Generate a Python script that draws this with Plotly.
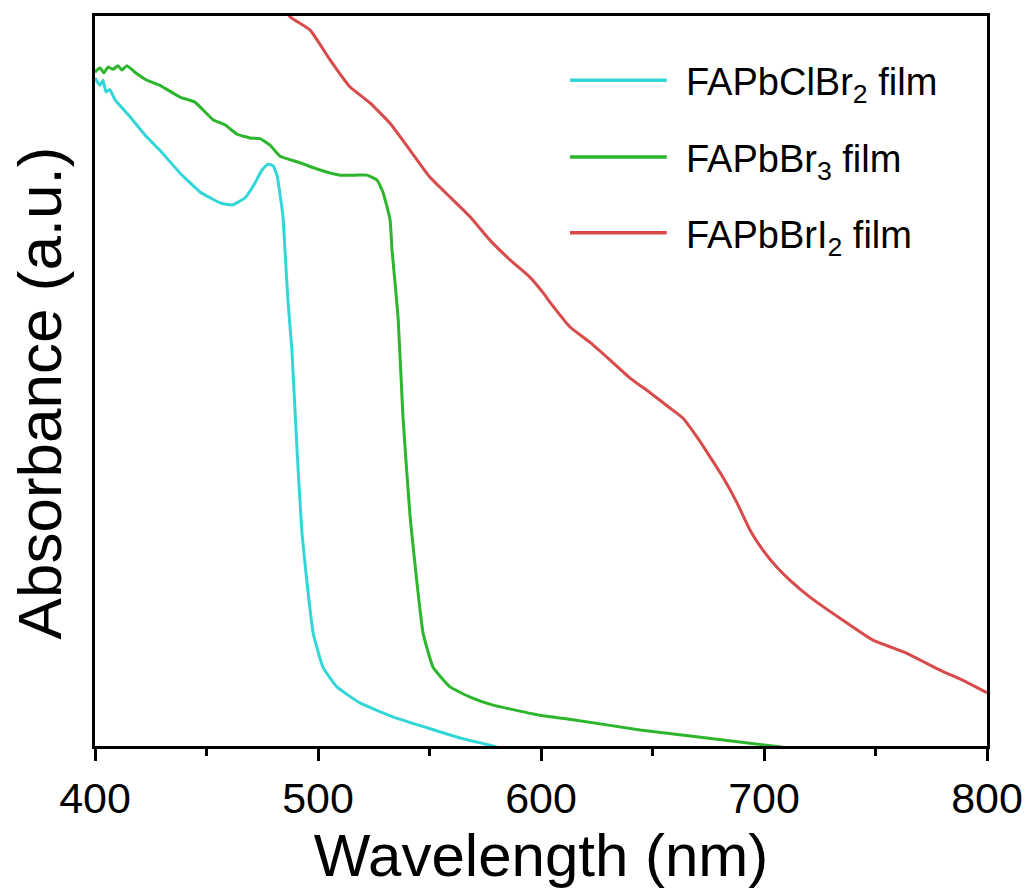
import plotly.graph_objects as go

# UV-vis absorbance spectra of FAPbX3 perovskite films (wavelength in nm, absorbance in a.u.)
wl_clbr2 = [400.0, 402.2, 403.6, 404.9, 406.7, 409.0, 415.7, 422.4, 429.1, 438.1,
            447.1, 456.1, 461.4, 467.3, 471.7, 474.9, 477.6, 479.8, 481.6, 483.0,
            484.3, 485.2, 486.5, 488.3, 490.6, 492.8, 495.1, 497.8, 502.2, 508.5,
            518.8, 533.6, 548.9, 563.7, 578.5, 581.6]
abs_clbr2 = [0.915, 0.905, 0.912, 0.896, 0.899, 0.885, 0.862, 0.837, 0.816, 0.785,
             0.759, 0.744, 0.741, 0.751, 0.771, 0.789, 0.797, 0.795, 0.782, 0.755,
             0.725, 0.679, 0.611, 0.542, 0.405, 0.292, 0.223, 0.155, 0.108, 0.081,
             0.059, 0.040, 0.025, 0.011, 0.000, -0.003]

wl_br3 = [400.0, 402.2, 404.0, 405.8, 408.1, 410.3, 412.1, 414.3, 417.9, 423.3,
          429.1, 438.1, 444.8, 452.9, 458.3, 463.7, 469.5, 474.0, 478.5, 483.0,
          491.9, 500.9, 509.9, 516.6, 522.0, 526.5, 529.1, 532.3, 533.2, 535.9,
          538.1, 541.3, 544.4, 547.1, 551.6, 559.2, 568.2, 578.5, 599.6, 614.3,
          644.4, 674.4, 704.0, 711.7]
abs_br3 = [0.923, 0.929, 0.922, 0.930, 0.927, 0.932, 0.926, 0.932, 0.923, 0.912,
           0.905, 0.889, 0.882, 0.858, 0.851, 0.838, 0.833, 0.832, 0.823, 0.808,
           0.799, 0.789, 0.782, 0.782, 0.782, 0.775, 0.759, 0.721, 0.679, 0.588,
           0.451, 0.314, 0.223, 0.155, 0.108, 0.081, 0.067, 0.056, 0.042, 0.036,
           0.022, 0.011, 0.000, -0.003]

wl_bri2 = [485.0, 487.4, 496.4, 505.4, 514.3, 523.3, 532.3, 541.3, 550.2, 559.2,
           568.2, 577.1, 586.1, 595.1, 600.9, 604.0, 613.0, 622.0, 630.9, 639.9,
           648.9, 657.8, 663.7, 670.0, 675.8, 681.6, 687.9, 693.7, 699.6, 705.8,
           711.7, 720.6, 734.1, 748.9, 764.1, 778.9, 789.2, 800.0]
abs_bri2 = [1.012, 0.999, 0.981, 0.940, 0.903, 0.881, 0.853, 0.816, 0.779, 0.752,
            0.725, 0.693, 0.666, 0.642, 0.621, 0.608, 0.574, 0.553, 0.529, 0.504,
            0.484, 0.463, 0.449, 0.423, 0.396, 0.368, 0.333, 0.296, 0.268, 0.245,
            0.227, 0.204, 0.175, 0.145, 0.127, 0.104, 0.090, 0.073]

names = ["FAPbClBr<sub>2</sub> film", "FAPbBr<sub>3</sub> film", "FAPbBrI<sub>2</sub> film"]
colors = ["#33D6D6", "#2DB52D", "#D94A4A"]

x_ticks = [400, 500, 600, 700, 800]

FONT = "Liberation Sans, Arial, sans-serif"

series = [(wl_clbr2, abs_clbr2), (wl_br3, abs_br3), (wl_bri2, abs_bri2)]

fig = go.Figure()
for (xs, ys), name, col in zip(series, names, colors):
    fig.add_trace(go.Scatter(x=xs, y=ys, mode="lines", name=name,
                             line=dict(color=col, width=3, shape="spline", smoothing=0.4),
                             showlegend=False))

# Legend drawn as long line samples with labels to the right
legend_y = [0.912, 0.807, 0.703]
shapes = []
annotations = []
for name, col, ly in zip(names, colors, legend_y):
    shapes.append(dict(type="line", xref="paper", yref="paper",
                       x0=0.5325, x1=0.641, y0=ly, y1=ly,
                       line=dict(color=col, width=3.5)))
    annotations.append(dict(xref="paper", yref="paper", x=0.66, y=ly,
                            xanchor="left", yanchor="middle", yshift=-5,
                            text=name, showarrow=False,
                            font=dict(family=FONT, size=38, color="black")))

# Vertical axis title
annotations.append(dict(xref="paper", yref="paper", x=-0.062, y=0.484,
                        xanchor="center", yanchor="middle", textangle=-90,
                        text="Absorbance (a.u.)", showarrow=False,
                        font=dict(family=FONT, size=62, color="black")))

fig.update_layout(
    width=1030, height=891,
    margin=dict(l=95, r=43, t=16, b=145),
    paper_bgcolor="white", plot_bgcolor="white",
    font=dict(family=FONT, color="black"),
    shapes=shapes, annotations=annotations,
    xaxis=dict(
        range=[400, 800], tickvals=x_ticks, ticktext=[str(v) for v in x_ticks],
        ticks="outside", ticklen=12, tickwidth=3, tickcolor="black",
        minor=dict(tickvals=[450, 550, 650, 750], ticks="outside", ticklen=7,
                   tickwidth=3, tickcolor="black"),
        showline=True, linewidth=3, linecolor="black", mirror=True,
        showgrid=False, zeroline=False, automargin=False,
        tickfont=dict(family=FONT, size=43, color="black"),
        title=dict(text="Wavelength (nm)", font=dict(family=FONT, size=60, color="black"),
                   standoff=12),
    ),
    yaxis=dict(
        range=[0, 1], showticklabels=False, ticks="",
        showline=True, linewidth=3, linecolor="black", mirror=True,
        showgrid=False, zeroline=False, automargin=False,
    ),
)

fig.write_html("out.html")
